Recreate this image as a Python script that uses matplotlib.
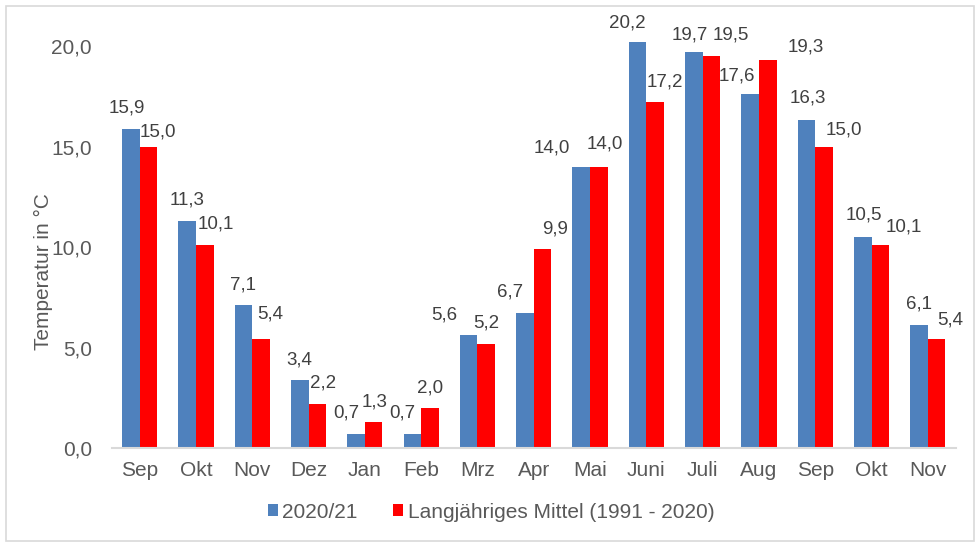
import numpy as np
import matplotlib.pyplot as plt
from matplotlib.patches import Rectangle

plt.rcParams['font.family'] = ['Liberation Sans', 'DejaVu Sans']

months = ["Sep", "Okt", "Nov", "Dez", "Jan", "Feb", "Mrz", "Apr",
          "Mai", "Juni", "Juli", "Aug", "Sep", "Okt", "Nov"]
temp_2021 = [15.9, 11.3, 7.1, 3.4, 0.7, 0.7, 5.6, 6.7,
             14.0, 20.2, 19.7, 17.6, 16.3, 10.5, 6.1]
temp_mittel = [15.0, 10.1, 5.4, 2.2, 1.3, 2.0, 5.2, 9.9,
               14.0, 17.2, 19.5, 19.3, 15.0, 10.1, 5.4]

# label nudges in pixels (dx, dy from the bar top)
blue_off = [(-4.5, 21), (0, 21), (0, 20), (0, 20), (-10, 21), (-10, 20.5),
            (-24, 20.5), (-14.5, 21), (-29.5, 18.5), (-10, 19.5), (-4.5, 17),
            (-13, 18.5), (1, 22.5), (1, 22), (0, 21.5)]
red_off = [(9.5, 14.5), (11, 21.5), (9, 25.5), (6, 20.5), (1, 20), (0, 20),
           (0, 20.5), (12, 20.5), (6, 23), (10, 20.5), (19.5, 21),
           (37.5, 13.5), (19.5, 16.5), (23, 18.5), (13.5, 19)]

BLUE = "#4F81BD"
RED = "#FF0000"
GREY = "#595959"
FS_LBL = 13.5   # data labels
FS = 15         # axes text and legend

fig = plt.figure(figsize=(9.8, 5.46), dpi=100)
ax = fig.add_axes([0.1138, 0.1795, 0.8617, 0.7912])

x = np.arange(len(months))
w = 0.313
b1 = ax.bar(x - w / 2, temp_2021, w, color=BLUE, label="2020/21")
b2 = ax.bar(x + w / 2, temp_mittel, w, color=RED,
            label="Langjähriges Mittel (1991 - 2020)")

def fmt(v):
    return f"{v:.1f}".replace(".", ",")

for bars, vals, offs in ((b1, temp_2021, blue_off), (b2, temp_mittel, red_off)):
    for rect, v, (dx, dy) in zip(bars, vals, offs):
        ax.annotate(fmt(v), (rect.get_x() + rect.get_width() / 2, v),
                    xytext=(dx, dy), textcoords="offset pixels",
                    ha="center", va="center", fontsize=FS_LBL, color="#404040")

ax.set_xlim(-0.5, len(months) - 0.5)
ax.set_ylim(0, 21.5)
ax.set_yticks([0, 5, 10, 15, 20])
ax.set_yticklabels([fmt(t) for t in [0, 5, 10, 15, 20]])
ax.set_xticks(x)
ax.set_xticklabels(months)
ax.tick_params(axis="both", length=0, labelsize=FS, colors=GREY)
ax.tick_params(axis="y", pad=14)
ax.tick_params(axis="x", pad=9.5)

for s in ("top", "right", "left"):
    ax.spines[s].set_visible(False)
ax.spines["bottom"].set_color("#d9d9d9")
ax.spines["bottom"].set_linewidth(1.5)

fig.text(43 / 980, 1 - 272 / 546, "Temperatur in °C", rotation=90,
         ha="center", va="center", fontsize=FS, color=GREY)

fig.legend(handles=[b1, b2], loc="center", bbox_to_anchor=(0.501, 0.062),
           ncol=2, frameon=False, fontsize=FS, labelcolor=GREY,
           handlelength=0.5, handleheight=0.5, handletextpad=0.2,
           columnspacing=1.7)

fig.patches.append(Rectangle((5.5 / 980, 5.5 / 546), 968 / 980, 535 / 546,
                             transform=fig.transFigure, fill=False,
                             edgecolor="#d9d9d9", linewidth=1.2))

fig.savefig("out.png", dpi=100)
